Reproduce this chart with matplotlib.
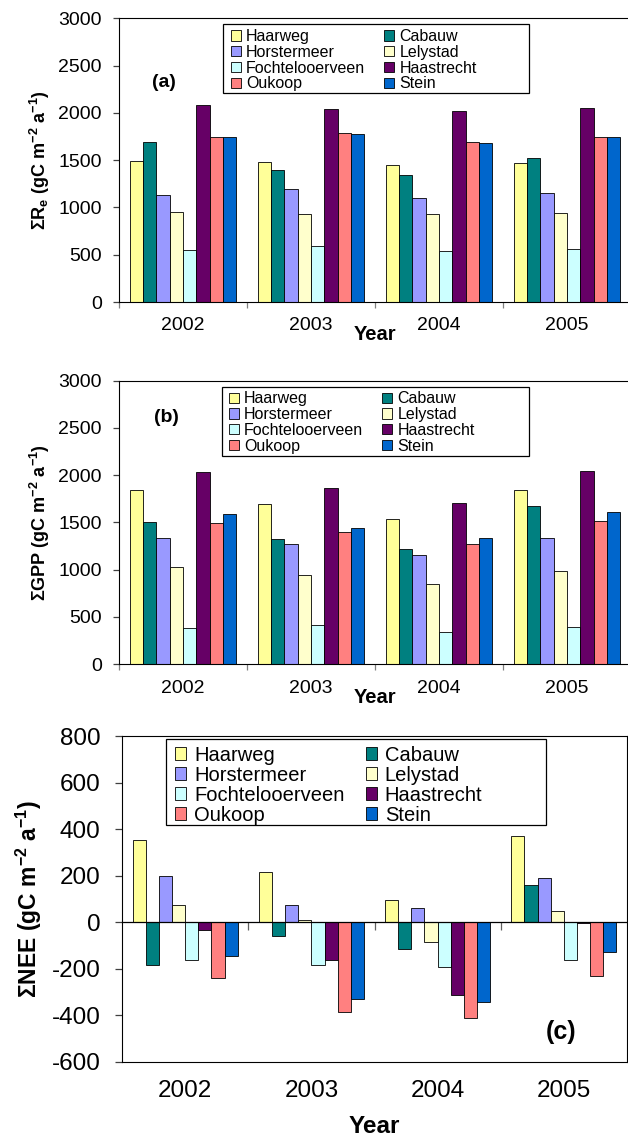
import matplotlib
matplotlib.use('Agg')
import matplotlib.pyplot as plt
from matplotlib.patches import Rectangle
import numpy as np

plt.rcParams['font.family'] = ['Liberation Sans', 'DejaVu Sans']
plt.rcParams['mathtext.fontset'] = 'custom'
plt.rcParams['mathtext.rm'] = 'Liberation Sans:bold'
plt.rcParams['mathtext.bf'] = 'Liberation Sans:bold'
plt.rcParams['mathtext.it'] = 'Liberation Sans:bold'
plt.rcParams['mathtext.default'] = 'bf'
plt.rcParams['axes.unicode_minus'] = False

# ---------------- data ----------------
years = ['2002', '2003', '2004', '2005']
sites = ['Haarweg', 'Cabauw', 'Horstermeer', 'Lelystad',
         'Fochtelooerveen', 'Haastrecht', 'Oukoop', 'Stein']
colors = ['#FFFF99', '#008080', '#9999FF', '#FFFFCC',
          '#CCFFFF', '#660066', '#FF8080', '#0066CC']

# rows: sites (same order as `sites`), columns: years
reco = [
    [1490, 1480, 1450, 1470],   # Haarweg
    [1690, 1395, 1345, 1520],   # Cabauw
    [1130, 1195, 1100, 1150],   # Horstermeer
    [950, 930, 930, 940],       # Lelystad
    [550, 595, 540, 560],       # Fochtelooerveen
    [2080, 2040, 2020, 2050],   # Haastrecht
    [1745, 1785, 1690, 1745],   # Oukoop
    [1745, 1775, 1680, 1745],   # Stein
]
gpp = [
    [1845, 1695, 1535, 1845],
    [1505, 1320, 1215, 1675],
    [1335, 1270, 1155, 1335],
    [1030, 940, 845, 985],
    [380, 410, 340, 390],
    [2035, 1865, 1705, 2045],
    [1495, 1400, 1270, 1515],
    [1590, 1440, 1335, 1610],
]
nee = [
    [355, 217, 95, 372],
    [-183, -60, -118, 160],
    [200, 75, 62, 190],
    [75, 10, -87, 47],
    [-165, -183, -193, -165],
    [-33, -165, -312, -5],
    [-240, -385, -411, -230],
    [-145, -330, -343, -128],
]

ylabels = [r'ΣR$_{e}$ (gC m$^{-2}$ a$^{-1}$)',
           r'ΣGPP (gC m$^{-2}$ a$^{-1}$)',
           r'ΣNEE (gC m$^{-2}$ a$^{-1}$)']
tags = ['(a)', '(b)', '(c)']

# ---------------- figure ----------------
fig = plt.figure(figsize=(6.28, 11.38), dpi=100)
fig.patch.set_facecolor('white')

ax_a = fig.add_axes([0.1895, 0.7346, 0.8153, 0.2493])
ax_b = fig.add_axes([0.1895, 0.4163, 0.8153, 0.2492])
ax_c = fig.add_axes([0.1943, 0.0672, 0.8041, 0.2860])

legend_order = [0, 2, 4, 6, 1, 3, 5, 7]


def draw_panel(ax, values, ylim, yticks, ylabel, tag, cfg):
    x = np.arange(len(years))
    w = 1 / 9.6
    handles = []
    for i, (name, vals, col) in enumerate(zip(sites, values, colors)):
        b = ax.bar(x + (i - 3.5) * w, vals, w, color=col, edgecolor='black',
                   linewidth=0.6, label=name, zorder=2)
        handles.append(b)
    ax.set_xlim(-0.5, len(years) - 0.5)
    ax.set_ylim(*ylim)
    ax.set_yticks(yticks)
    ax.set_yticklabels([str(v) for v in yticks])
    ax.tick_params(axis='y', length=cfg['ytl'], width=0.9, color='#404040',
                   pad=cfg['ypad'], labelsize=cfg['tick'])
    # category boundaries as major ticks, labels at centres as minor
    ax.set_xticks(np.arange(-0.5, len(years), 1.0))
    ax.set_xticklabels([])
    ax.set_xticks(x, minor=True)
    ax.set_xticklabels(years, minor=True)
    ax.tick_params(axis='x', which='minor', length=0, pad=cfg['xpad'],
                   labelsize=cfg['tick'])
    ax.tick_params(axis='x', which='major', length=cfg['xtl'], width=0.9,
                   color='#808080', direction='out')
    for s in ax.spines.values():
        s.set_linewidth(0.8)
        s.set_color('black')

    ax.set_ylabel(ylabel, fontsize=cfg['lab'], fontweight='bold', va='center')
    ax.yaxis.set_label_coords(cfg['ylab_x'], 0.5)
    ax.set_xlabel('Year', fontsize=cfg['year'], fontweight='bold', va='center')
    ax.xaxis.set_label_coords(0.5, cfg['year_y'])

    ax.text(cfg['tag_xy'][0], cfg['tag_xy'][1], tag, transform=ax.transAxes,
            fontsize=cfg['tagfs'], fontweight='bold', ha='center', va='center')

    bx0, by0, bx1, by1 = cfg['box']
    ax.add_patch(Rectangle((bx0, by0), bx1 - bx0, by1 - by0, transform=ax.transAxes,
                           facecolor='white', edgecolor='black', linewidth=0.9,
                           zorder=3, clip_on=False))
    ax.legend([handles[j] for j in legend_order], [sites[j] for j in legend_order],
              ncol=2, loc='upper left', bbox_to_anchor=cfg['leg_xy'],
              borderaxespad=0, borderpad=0, frameon=False, fontsize=cfg['leg'],
              handlelength=cfg['hl'], handleheight=cfg['hl'],
              handletextpad=cfg['htp'], columnspacing=cfg['cs'],
              labelspacing=0.05)


cfg_ab = dict(tick=14, ytl=4, ypad=8.5, xtl=4, xpad=11, lab=13, year=14.5,
              tagfs=14, leg=11.5, hl=0.6, htp=0.35, cs=1.2, ylab_x=-0.154)

cfg_a = dict(cfg_ab, year_y=-0.116, tag_xy=(0.0869, 0.7744),
             box=(0.2031, 0.7367, 0.8008, 0.9799), leg_xy=(0.2188, 0.962))
cfg_b = dict(cfg_ab, year_y=-0.119, tag_xy=(0.0928, 0.870),
             box=(0.2012, 0.7345, 0.8008, 0.9788), leg_xy=(0.2148, 0.9626))
cfg_c = dict(tick=17.5, ytl=5, ypad=10.5, xtl=0, xpad=13.2, lab=16.5, year=17.5,
             tagfs=18, leg=14.5, hl=0.55, htp=0.4, cs=1.05, ylab_x=-0.184,
             year_y=-0.201, tag_xy=(0.869, 0.0906),
             box=(0.0871, 0.7266, 0.8396, 0.9908), leg_xy=(0.105, 0.9705))

draw_panel(ax_a, reco, (0, 3000), list(range(0, 3001, 500)), ylabels[0], tags[0], cfg_a)
draw_panel(ax_b, gpp, (0, 3000), list(range(0, 3001, 500)), ylabels[1], tags[1], cfg_b)
draw_panel(ax_c, nee, (-600, 800), list(range(-600, 801, 200)), ylabels[2], tags[2], cfg_c)

# category axis of panel (c) crosses at zero
ax_c2 = ax_c.twiny()
ax_c2.set_xlim(ax_c.get_xlim())
ax_c2.xaxis.set_ticks_position('bottom')
ax_c2.spines['bottom'].set_position(('data', 0))
for k in ['top', 'left', 'right']:
    ax_c2.spines[k].set_visible(False)
ax_c2.spines['bottom'].set_linewidth(0.9)
ax_c2.spines['bottom'].set_color('black')
ax_c2.set_xticks(np.arange(0.5, len(years) - 1, 1.0))
ax_c2.set_xticklabels([])
ax_c2.tick_params(axis='x', length=6, width=0.9, color='#606060', direction='out')

fig.savefig('out.png', dpi=100, facecolor='white')
